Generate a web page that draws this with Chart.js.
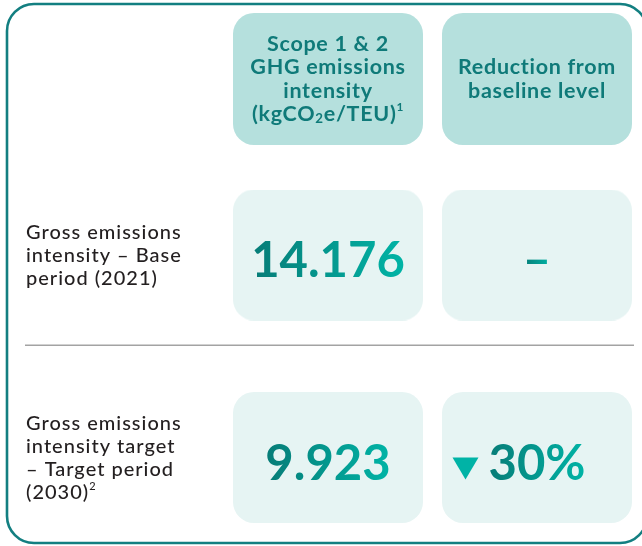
<!DOCTYPE html>
<html>
<head>
<meta charset="utf-8">
<script src="https://cdn.jsdelivr.net/npm/chart.js@4"></script>
<style>
  body { margin: 0; background: #ffffff; }
  canvas { display: block; }
</style>
</head>
<body>
<canvas id="emissionsChart" width="642" height="546"></canvas>
<script>
// table data
const columns = ['Scope 1 & 2 GHG emissions intensity (kgCO2e/TEU)', 'Reduction from baseline level']
const headerLines = [
  ['Scope 1 & 2', 'GHG emissions', 'intensity', '(kgCO_2e/TEU)^1'],
  ['Reduction from', 'baseline level']
]
const rowKeys = ['header', 'base', 'target']
const rowLabels = [
  ['Gross emissions', 'intensity \u2013 Base', 'period (2021)'],
  ['Gross emissions', 'intensity target', '\u2013 Target period', '(2030)^2']
]
const intensity = [14.176, 9.923]   // kgCO2e/TEU
const reduction = [null, 30]        // % from baseline

const headerShift = 26.5   // header cells sit a bit lower than the row tick
const lineH = 23.3

function cellImage(w, h, shift, color) {
  const c = document.createElement('canvas')
  c.width = w
  c.height = h + shift * 2
  const g = c.getContext('2d')
  g.fillStyle = color
  g.beginPath()
  g.roundRect(0, shift * 2, w, h, 21)
  g.fill()
  return c
}

const headerImg = cellImage(190, 132, headerShift, '#b5e0dd')
const bodyImg = cellImage(190, 131, 0, '#e6f4f3')

let cells = []
for (let r = 0; r < rowKeys.length; r++) {
  for (let c = 0; c < columns.length; c++) {
    cells.push({ x: columns[c], y: rowKeys[r], row: r, col: c })
  }
}

// draws a line with _2 (subscript) and ^1 (superscript) bits
function drawRich(g, text, x, y, size, weight, align, spacing) {
  const parts = text.split(/([_^]\d)/).filter(p => p !== '')
  const pieces = parts.map(p => {
    if (p[0] === '_') return { t: p[1], size: size * 0.62, dy: size * 0.1 }
    if (p[0] === '^') return { t: p[1], size: size * 0.55, dy: -size * 0.45 }
    return { t: p, size: size, dy: 0 }
  })
  g.letterSpacing = spacing + 'px'
  let total = 0
  for (const p of pieces) {
    g.font = `${weight} ${p.size}px Lato`
    p.w = g.measureText(p.t).width
    total += p.w
  }
  let cx = align === 'center' ? x - total / 2 : x
  g.textAlign = 'left'
  for (const p of pieces) {
    g.font = `${weight} ${p.size}px Lato`
    g.fillText(p.t, cx, y + p.dy)
    cx += p.w
  }
  g.letterSpacing = '0px'
}

function drawValue(g, text, cx, baseline) {
  g.font = 'bold 49px Lato'
  g.textAlign = 'left'
  g.letterSpacing = '0px'
  const w = g.measureText(text).width
  const left = cx - w / 2
  const grad = g.createLinearGradient(left, 0, left + w, 0)
  grad.addColorStop(0, '#077c77')
  grad.addColorStop(1, '#00b4a6')
  g.fillStyle = grad
  g.fillText(text, left, baseline)
  return left
}

const tablePlugin = {
  id: 'tablePlugin',
  beforeDraw(chart) {
    const g = chart.ctx
    g.save()
    g.fillStyle = '#ffffff'
    g.fillRect(0, 0, chart.width, chart.height)
    g.strokeStyle = '#137f81'
    g.lineWidth = 2.6
    g.beginPath()
    g.roundRect(7, 4, 640, 539, 27)
    g.stroke()
    g.restore()
  },
  afterDatasetsDraw(chart) {
    const g = chart.ctx
    const xs = chart.scales.x
    const ys = chart.scales.y
    g.save()

    // header text
    const hy = ys.getPixelForValue(0) + headerShift
    g.fillStyle = '#0f7a79'
    headerLines.forEach((lines, c) => {
      const cx = xs.getPixelForValue(c)
      const first = hy - (lines.length - 1) / 2 * lineH + 7
      lines.forEach((line, i) => drawRich(g, line, cx, first + i * lineH, 21.5, 'bold', 'center', 0.7))
    })

    // separator between rows
    const y1 = ys.getPixelForValue(1)
    const y2 = ys.getPixelForValue(2)
    g.strokeStyle = '#a3a3a3'
    g.lineWidth = 1.3
    g.beginPath()
    g.moveTo(25, (y1 + y2) / 2 - 11)
    g.lineTo(634, (y1 + y2) / 2 - 11)
    g.stroke()

    // row labels + values
    rowLabels.forEach((lines, r) => {
      const cy = ys.getPixelForValue(r + 1)
      const first = cy - (lines.length - 1) / 2 * lineH + 7
      g.fillStyle = '#231f20'
      lines.forEach((line, i) => drawRich(g, line, 26, first + i * lineH, 20, '500', 'left', 1.0))

      const base = cy + 22
      drawValue(g, intensity[r].toFixed(3), xs.getPixelForValue(0), base)

      const rx = xs.getPixelForValue(1)
      if (reduction[r] === null) {
        drawValue(g, '\u2013', rx, base)
      } else {
        const left = drawValue(g, reduction[r] + '%', rx, base)
        g.fillStyle = '#00b3a6'
        g.beginPath()
        g.moveTo(left - 36, base - 22)
        g.lineTo(left - 10, base - 22)
        g.lineTo(left - 23, base)
        g.closePath()
        g.fill()
      }
    })
    g.restore()
  }
}

new Chart(document.getElementById('emissionsChart'), {
  type: 'scatter',
  data: {
    datasets: [{
      data: cells,
      pointStyle: ctx => ctx.raw && ctx.raw.row === 0 ? headerImg : bodyImg,
      radius: 20,
      hoverRadius: 20,
      clip: false
    }]
  },
  options: {
    responsive: false,
    animation: false,
    events: [],
    layout: { padding: { left: 328, right: 105, top: 52.5, bottom: 88.5 } },
    scales: {
      x: { type: 'category', labels: columns, offset: false, display: false },
      y: { type: 'category', labels: rowKeys, offset: false, display: false }
    },
    plugins: {
      legend: { display: false },
      tooltip: { enabled: false }
    }
  },
  plugins: [tablePlugin]
})
</script>
</body>
</html>
